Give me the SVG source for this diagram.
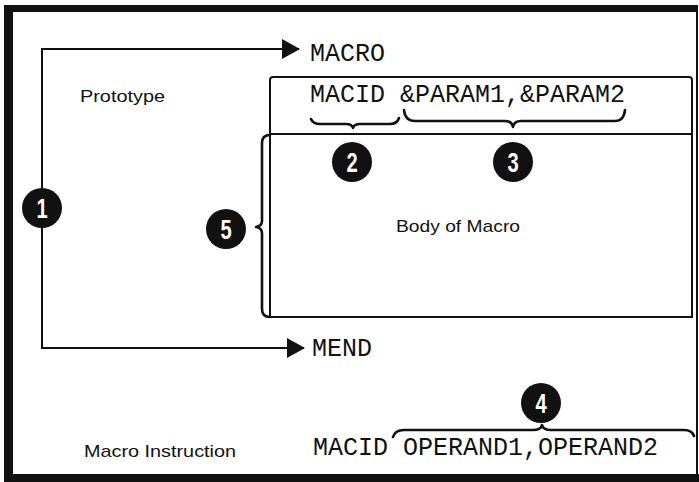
<svg xmlns="http://www.w3.org/2000/svg" width="699" height="482" viewBox="0 0 699 482">
<style>
.mono{font-family:"Liberation Mono","DejaVu Sans Mono",monospace;font-size:25px;fill:#111}
.sans{font-family:"Liberation Sans",Arial,sans-serif;font-size:17px;fill:#111}
.ln{stroke:#111;stroke-width:2;fill:none}
.brace{stroke:#111;stroke-width:2.6;fill:none;stroke-linecap:round;stroke-linejoin:round}
.dot{fill:#111}
.num{font-family:"Liberation Sans",Arial,sans-serif;font-weight:bold;font-size:28px;fill:#fff;text-anchor:middle}
</style>
<defs>
<marker id="ah" viewBox="0 0 18 20" refX="17" refY="10" markerWidth="18" markerHeight="20" markerUnits="userSpaceOnUse" orient="auto">
<path d="M0,0 L18,10 L0,20 Z" fill="#111"/>
</marker>
</defs>
<rect width="699" height="482" fill="#fff"/>
<g id="frame" fill="#111">
<rect x="4" y="5" width="9" height="477"/>
<rect x="4" y="5" width="694" height="7"/>
<rect x="4" y="474" width="695" height="8"/>
<rect x="696" y="5" width="2" height="477"/>
</g>
<g id="connectors">
<path class="ln" d="M42,208 V49 H299" marker-end="url(#ah)"/>
<path class="ln" d="M42,208 V348 H304" marker-end="url(#ah)"/>
</g>
<g id="macro-label"><text class="mono" x="310" y="61">MACRO</text></g>
<g id="mend-label"><text class="mono" x="312" y="356">MEND</text></g>
<g id="prototype-label"><text class="sans" x="80" y="102" font-size="18" textLength="85" lengthAdjust="spacingAndGlyphs">Prototype</text></g>
<g id="prototype-box">
<path class="ln" d="M270,317 V80 Q270,77 273,77 H689 Q692,77 692,80 V317 Z"/>
<line class="ln" x1="270" y1="134" x2="692" y2="134"/>
<text class="mono" x="310" y="102">MACID &amp;PARAM1,&amp;PARAM2</text>
</g>
<g id="brace-macid"><path class="brace" d="M311,119 Q313,124 320,124 H346 Q352,124 353,128 Q354,124 360,124 H390 Q397,124 399,118"/></g>
<g id="brace-params"><path class="brace" d="M404,110 Q405,121 415,121 H505 Q512,121 513,127 Q514,121 521,121 H615 Q624,121 625,110"/></g>
<g id="body-box">
<text class="sans" x="396" y="232" textLength="124" lengthAdjust="spacingAndGlyphs">Body of Macro</text>
<path class="brace" d="M270,135 Q262,135 262,143 V221 Q262,226 256,227 Q262,228 262,233 V309 Q262,317 270,317"/>
</g>
<g id="macro-instruction-label"><text class="sans" x="84" y="457" textLength="152" lengthAdjust="spacingAndGlyphs">Macro Instruction</text></g>
<g id="macro-instruction">
<text class="mono" x="313" y="455">MACID OPERAND1,OPERAND2</text>
<path class="brace" d="M393,437 Q395,430 404,430 H533 Q541,430 542,425 Q543,430 551,430 H684 Q692,430 694,436"/>
</g>
<g id="c1"><circle class="dot" cx="42" cy="208" r="20"/><text class="num" transform="translate(42,218) scale(0.72,1)">1</text></g>
<g id="c2"><circle class="dot" cx="352" cy="162" r="20"/><text class="num" transform="translate(352,172) scale(0.72,1)">2</text></g>
<g id="c3"><circle class="dot" cx="513" cy="162" r="20"/><text class="num" transform="translate(513,172) scale(0.72,1)">3</text></g>
<g id="c4"><circle class="dot" cx="541" cy="403" r="20"/><text class="num" transform="translate(541,413) scale(0.72,1)">4</text></g>
<g id="c5"><circle class="dot" cx="226" cy="229" r="20"/><text class="num" transform="translate(226,239) scale(0.72,1)">5</text></g>
</svg>
